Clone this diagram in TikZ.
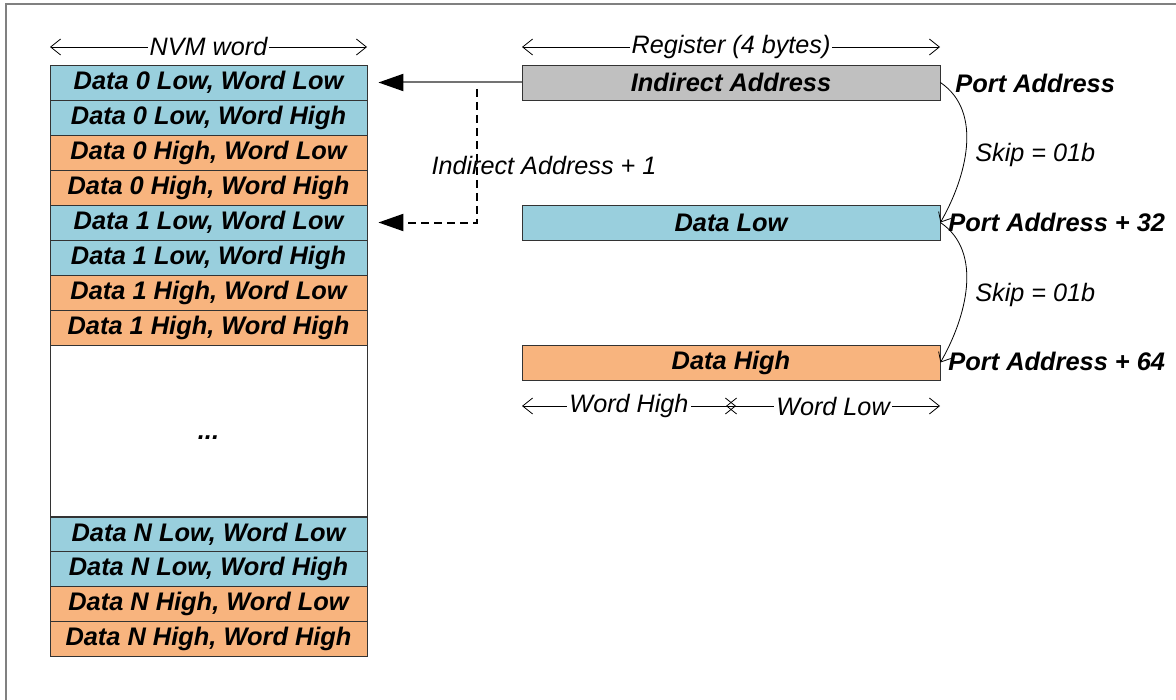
\documentclass[tikz,border=0pt]{standalone}
\usepackage{fontspec}
\setmainfont{Liberation Sans}
\usetikzlibrary{arrows.meta}
\definecolor{lowblue}{HTML}{99CFDD}
\definecolor{highorange}{HTML}{F8B47E}
\definecolor{regbox}{HTML}{C0C0C0}
\definecolor{frameline}{HTML}{808080}

\begin{document}
\begin{tikzpicture}[
    x=0.5pt,
    y=-0.5pt,
    cell/.style={draw=black!80, minimum width=158.5pt, minimum height=17.5pt, inner sep=0pt,
      font=\fontsize{12.7}{15}\selectfont\bfseries\itshape},
    reg/.style={cell, minimum width=209pt},
    dim/.style={{Straight Barb[length=5pt,width=8pt]}-{Straight Barb[length=5pt,width=8pt]}, line width=0.4pt},
    dimtext/.style={fill=white, inner sep=1pt, font=\fontsize{12.6}{15}\selectfont\itshape},
    note/.style={inner sep=0pt, font=\fontsize{12.6}{15}\selectfont\itshape},
    port/.style={anchor=west, inner sep=0pt, font=\fontsize{12.7}{15}\selectfont\bfseries\itshape},
    skip/.style={-{Straight Barb[length=4pt,width=7pt]}, line width=0.4pt},
    ptr/.style={-{Triangle[length=12.5pt,width=8.5pt,color=black]}, line width=1pt, shorten >=5.5pt},
  ]
  \useasboundingbox (0,0) rectangle (1176,700);
  \draw[frameline, line width=1pt] (6,700) -- (6,4) -- (1176,4);

  % NVM words
  \foreach \d/\base in {0/82.5, 1/222.5, N/534} {
    \foreach \h/\c [count=\j from 0] in {Low/lowblue, High/highorange} {
      \foreach \w [count=\k from 0] in {Low, High} {
        \node[cell, fill=\c] (d\d\h\w) at (208.5, {\base+70*\j+35*\k}) {Data \d{} \h, Word \w};
      }
    }
  }
  \node[cell, minimum height=86pt, text height=8pt, text depth=0pt] (gap) at (208.5,431) {...};

  \coordinate (nvmL) at (50,47);
  \coordinate (nvmR) at (367,47);
  \draw[dim] (nvmL) -- node[dimtext] (nvmT) {NVM word} (nvmR);

  % registers
  \node[reg, fill=regbox] (ia) at (731,82.5) {Indirect Address};
  \node[reg, fill=lowblue] (dl) at (731,222.5) {Data Low};
  \node[reg, fill=highorange] (dh) at (731,362.5) {Data High};

  \coordinate (regL) at (522,47);
  \coordinate (regR) at (940,47);
  \draw[dim] (regL) -- node[dimtext] (regT) {Register (4 bytes)} (regR);
  \coordinate (wordL) at (522,406);
  \coordinate (wordHR) at (736,406);
  \coordinate (wordLL) at (726,406);
  \coordinate (wordR) at (940,406);
  \draw[dim] (wordL) -- node[dimtext] (wordH) {Word High} (wordHR);
  \draw[dim] (wordLL) -- node[dimtext] (wordLo) {Word Low} (wordR);

  \node[port] (pa) at (955,83) {Port Address};
  \node[port] (pa32) at (948,222) {Port Address + 32};
  \node[port] (pa64) at (948,361) {Port Address + 64};
  \node[note, anchor=west] (skip1) at (975,155) {Skip = 01b};
  \node[note, anchor=west] (skip2) at (975,295) {Skip = 01b};

  \draw[skip] (ia.east) .. controls (984,112) and (966,178) .. (dl.east);
  \draw[skip] (dl.east) .. controls (984,252) and (966,318) .. (dh.east);

  % pointers
  \draw[ptr, black!55] (ia.west) -- (d0LowLow.east);
  \coordinate (dashTop) at (477,89);
  \draw[ptr, dash pattern=on 4pt off 2.5pt] (dashTop) |- (d1LowLow.east);
  \node[note] (iaplus) at (544,165) {Indirect Address + 1};
\end{tikzpicture}
\end{document}
